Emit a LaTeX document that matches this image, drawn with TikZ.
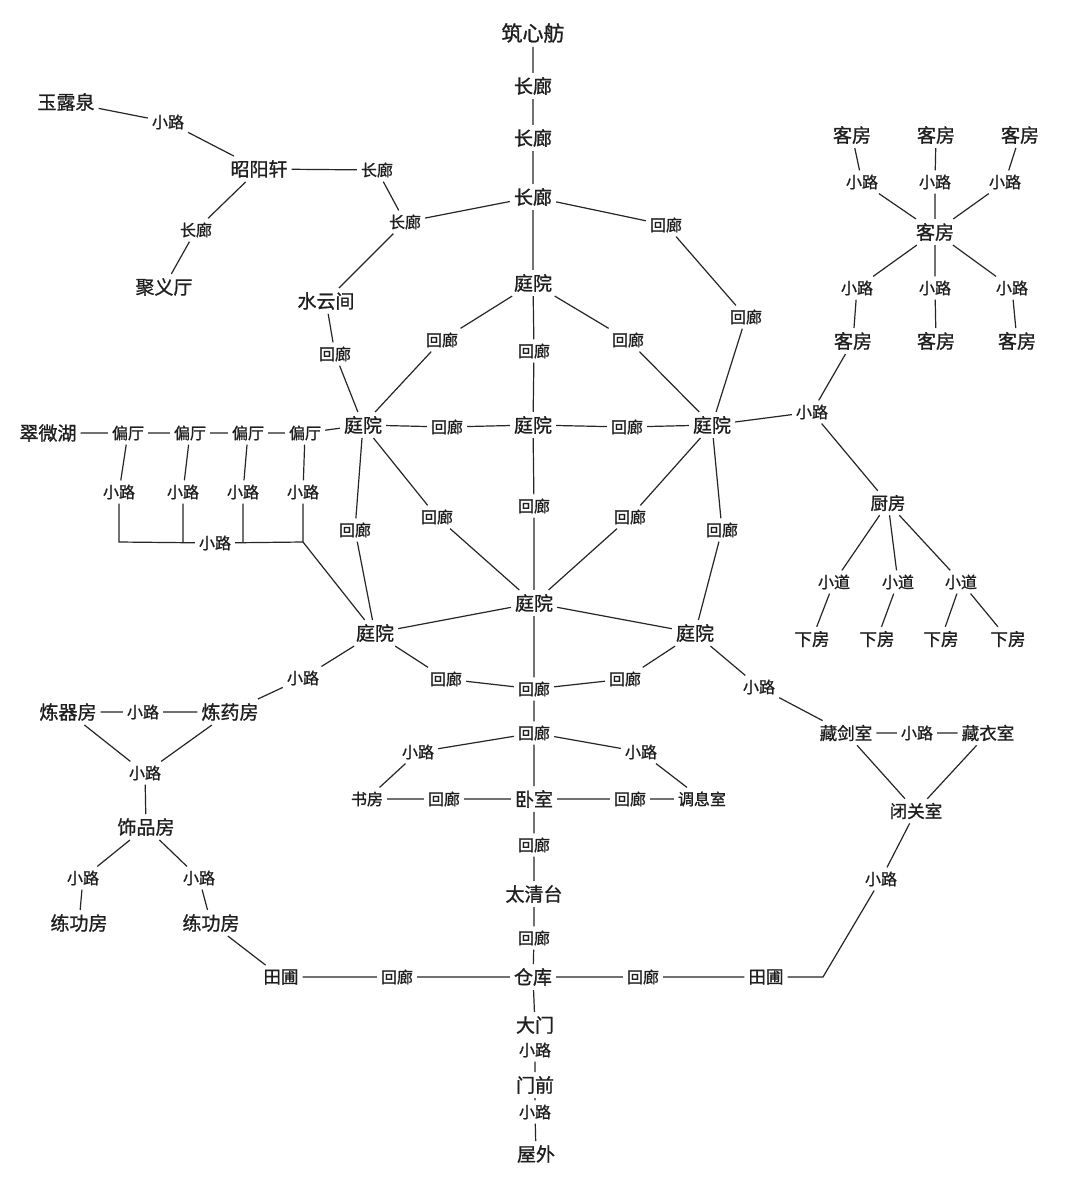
\documentclass[tikz,border=0pt]{standalone}
\usepackage{fontspec}
\setmainfont{Noto Sans CJK SC}[FakeBold=1]
\begin{document}
\begin{tikzpicture}[x=1pt,y=-1pt,
  every node/.style={inner sep=4pt,text=black!88},
  B/.style={font=\fontsize{19}{19}\selectfont},
  M/.style={font=\fontsize{17.5}{17.5}\selectfont},
  S/.style={font=\fontsize{16}{16}\selectfont},
  T/.style={font=\fontsize{21}{21}\selectfont},
  link/.style={line width=1.2pt,draw=black!85}]
\fill[white] (0,0) rectangle (1080,1197);
\useasboundingbox (0,0) rectangle (1080,1197);
% central axis
\node[T] (zxf) at (533,33) {筑心舫};
\node[B] (cl1) at (533,86) {长廊};
\node[B] (cl2) at (533,138) {长廊};
\node[B] (cl3) at (533,197) {长廊};
\node[B] (tT) at (533,283) {庭院};
\node[S] (hv1) at (534,351) {回廊};
\node[B] (tC) at (533,425) {庭院};
\node[S] (hv2) at (534,506) {回廊};
\node[B] (tLC) at (534,603) {庭院};
\node[S] (hv3) at (534,689) {回廊};
\node[S] (hv4) at (534,733) {回廊};
\node[B] (ws) at (534,799) {卧室};
\node[S] (hv5) at (534,845) {回廊};
\node[B] (tqt) at (534,894) {太清台};
\node[S] (hv6) at (534,938) {回廊};
\node[B] (ck) at (533,977) {仓库};
\node[B] (dm) at (535,1025) {大门};
\node[S] (xl5) at (535,1050) {小路};
\node[B] (mq) at (535,1085) {门前};
\node[S] (xl6) at (535,1112) {小路};
\node[B] (wwai) at (536,1154) {屋外};
% top left
\node[S] (cl4) at (405,222) {长廊};
\node[S] (cl5) at (377,170) {长廊};
\node[B] (zyx) at (259,169) {昭阳轩};
\node[S] (xl7) at (168,122) {小路};
\node[B] (ylq) at (66,102) {玉露泉};
\node[S] (cl6) at (196,230) {长廊};
\node[B] (jyt) at (164,287) {聚义厅};
\node[B] (syj) at (326,301) {水云间};
\node[S] (hl1) at (335,354) {回廊};
% top right
\node[S] (hr1) at (666,225) {回廊};
\node[S] (hr2) at (746,317) {回廊};
% courtyards
\node[S] (hUL) at (442,340) {回廊};
\node[S] (hUR) at (628,340) {回廊};
\node[B] (tL) at (363,425) {庭院};
\node[S] (hRowL) at (447,427) {回廊};
\node[S] (hRowR) at (627,427) {回廊};
\node[B] (tR) at (712,425) {庭院};
\node[S] (hLv) at (355,530) {回廊};
\node[S] (hLd) at (437,517) {回廊};
\node[S] (hRd) at (630,517) {回廊};
\node[S] (hRv) at (722,530) {回廊};
\node[B] (tLL) at (375,633) {庭院};
\node[B] (tLR) at (695,633) {庭院};
\node[S] (hLL) at (446,679) {回廊};
\node[S] (hLR) at (625,679) {回廊};
% kitchen
\node[S] (xl8) at (812,412) {小路};
\node[M] (cf) at (888,503) {厨房};
\node[S] (xd1) at (834,582) {小道};
\node[S] (xd2) at (898,582) {小道};
\node[S] (xd3) at (961,582) {小道};
\node[M] (xf1) at (812,639) {下房};
\node[M] (xf2) at (877,639) {下房};
\node[M] (xf3) at (941,639) {下房};
\node[M] (xf4) at (1008,639) {下房};
% guest rooms
\node[B] (kt1) at (852,135) {客房};
\node[B] (kt2) at (936,135) {客房};
\node[B] (kt3) at (1020,135) {客房};
\node[S] (xk1) at (862,182) {小路};
\node[S] (xk2) at (935,182) {小路};
\node[S] (xk3) at (1005,182) {小路};
\node[B] (kh) at (935,232) {客房};
\node[S] (xk4) at (857,288) {小路};
\node[S] (xk5) at (935,288) {小路};
\node[S] (xk6) at (1012,288) {小路};
\node[B] (kb1) at (853,341) {客房};
\node[B] (kb2) at (936,341) {客房};
\node[B] (kb3) at (1017,341) {客房};
% left side halls
\node[B] (cwh) at (48,433) {翠微湖};
\node[S] (pt1) at (128,433) {偏厅};
\node[S] (pt2) at (190,433) {偏厅};
\node[S] (pt3) at (248,433) {偏厅};
\node[S] (pt4) at (305,433) {偏厅};
\node[S] (xp1) at (119,492) {小路};
\node[S] (xp2) at (183,492) {小路};
\node[S] (xp3) at (243,492) {小路};
\node[S] (xp4) at (303,492) {小路};
\node[S] (xb) at (215,543) {小路};
\coordinate (b1) at (119,542);
\coordinate (b4) at (303,542);
% lower left
\node[S] (xl9) at (303,678) {小路};
\node[B] (lqf) at (68,712) {炼器房};
\node[S] (xl10) at (143,712) {小路};
\node[B] (lyf) at (230,712) {炼药房};
\node[S] (xl11) at (145,773) {小路};
\node[B] (spf) at (146,827) {饰品房};
\node[S] (xl12) at (83,878) {小路};
\node[S] (xl13) at (199,878) {小路};
\node[B] (lgf1) at (79,923) {练功房};
\node[B] (lgf2) at (211,923) {练功房};
\node[M] (tpL) at (281,977) {田圃};
\node[S] (hbL) at (397,977) {回廊};
\node[S] (hbR) at (643,977) {回廊};
\node[M] (tpR) at (766,977) {田圃};
\coordinate (cR) at (823,977);
% lower middle
\node[S] (xl14) at (418,752) {小路};
\node[S] (xl15) at (641,752) {小路};
\node[S] (sf) at (367,799) {书房};
\node[S] (hwL) at (444,799) {回廊};
\node[S] (hwR) at (630,799) {回廊};
\node[S] (txs) at (702,799) {调息室};
% lower right
\node[S] (xl16) at (759,687) {小路};
\node[M] (cjs) at (846,733) {藏剑室};
\node[S] (xl17) at (917,733) {小路};
\node[M] (cys) at (988,733) {藏衣室};
\node[M] (bgs) at (916,811) {闭关室};
\node[S] (xl18) at (881,879) {小路};
% ---- connectors ----
\draw[link] (zxf)--(cl1) (cl1)--(cl2) (cl2)--(cl3) (cl3)--(tT) (tT)--(hv1) (hv1)--(tC)
      (tC)--(hv2) (hv2)--(tLC) (tLC)--(hv3) (hv3)--(hv4) (hv4)--(ws) (ws)--(hv5)
      (hv5)--(tqt) (tqt)--(hv6) (hv6)--(ck) (ck)--(dm) (xl5)--(mq) (mq)--(xl6) (xl6)--(wwai);
\draw[link] (cl3)--(cl4) (cl4)--(cl5) (cl5)--(zyx) (zyx)--(xl7) (xl7)--(ylq) (zyx)--(cl6) (cl6)--(jyt)
      (cl4)--(syj) (syj)--(hl1) (hl1)--(tL);
\draw[link] (cl3)--(hr1) (hr1)--(hr2) (hr2)--(tR);
\draw[link] (tT)--(hUL) (hUL)--(tL) (tT)--(hUR) (hUR)--(tR);
\draw[link] (tL)--(hRowL) (hRowL)--(tC) (tC)--(hRowR) (hRowR)--(tR);
\draw[link] (tL)--(hLv) (hLv)--(tLL) (tL)--(hLd) (hLd)--(tLC) (tR)--(hRd) (hRd)--(tLC) (tR)--(hRv) (hRv)--(tLR);
\draw[link] (tLL)--(tLC) (tLR)--(tLC) (tLL)--(hLL) (hLL)--(hv3) (tLR)--(hLR) (hLR)--(hv3);
\draw[link] (tR)--(xl8) (xl8)--(kb1) (xl8)--(cf) (cf)--(xd1) (cf)--(xd2) (cf)--(xd3)
      (xd1)--(xf1) (xd2)--(xf2) (xd3)--(xf3) (xd3)--(xf4);
\draw[link] (kt1)--(xk1) (kt2)--(xk2) (kt3)--(xk3) (xk1)--(kh) (xk2)--(kh) (xk3)--(kh)
      (kh)--(xk4) (kh)--(xk5) (kh)--(xk6) (xk4)--(kb1) (xk5)--(kb2) (xk6)--(kb3);
\draw[link] (cwh)--(pt1) (pt1)--(pt2) (pt2)--(pt3) (pt3)--(pt4) (pt4)--(tL)
      (pt1)--(xp1) (pt2)--(xp2) (pt3)--(xp3) (pt4)--(xp4);
\draw[link] (xp1)--(b1)--(xb) (xp2)--(xp2 |- b1) (xb)--(b4)--(xp4) (xp3)--(xp3 |- b1) (b4)--(tLL);
\draw[link] (tLL)--(xl9) (xl9)--(lyf) (lqf)--(xl10) (xl10)--(lyf) (lqf)--(xl11) (lyf)--(xl11)
      (xl11)--(spf) (spf)--(xl12) (xl12)--(lgf1) (spf)--(xl13) (xl13)--(lgf2) (lgf2)--(tpL);
\draw[link] (tpL)--(hbL) (hbL)--(ck) (ck)--(hbR) (hbR)--(tpR) (tpR)--(cR)--(xl18) (xl18)--(bgs);
\draw[link] (hv4)--(xl14) (xl14)--(sf) (hv4)--(xl15) (xl15)--(txs)
      (sf)--(hwL) (hwL)--(ws) (ws)--(hwR) (hwR)--(txs);
\draw[link] (tLR)--(xl16) (xl16)--(cjs) (cjs)--(xl17) (xl17)--(cys) (cjs)--(bgs) (cys)--(bgs);
\end{tikzpicture}
\end{document}
